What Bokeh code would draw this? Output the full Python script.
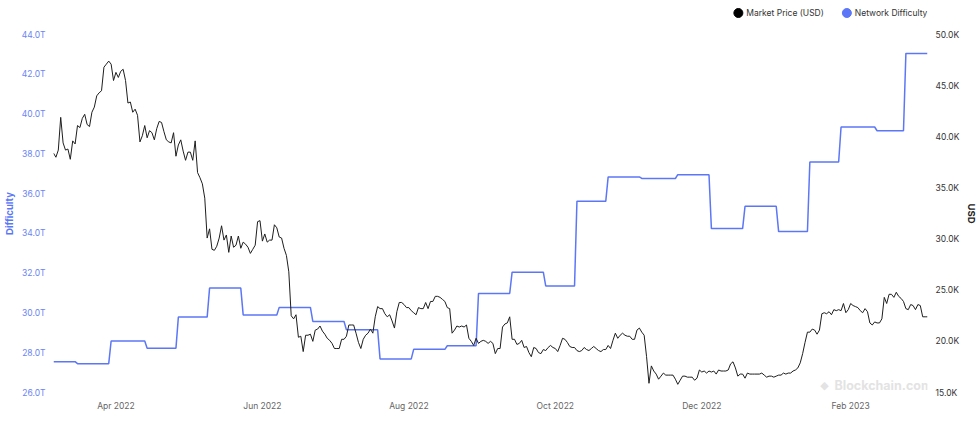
import pandas as pd
from bokeh.plotting import figure
from bokeh.layouts import column
from bokeh.core.properties import value
from bokeh.models import (Range1d, LinearAxis, FixedTicker, PrintfTickFormatter,
                          DatetimeTickFormatter, Label)
from bokeh.embed import file_html
from bokeh.resources import INLINE

# ---------------- data ----------------
price_start = "2022-03-06"
# Market price, thousands of USD, one value per day from 2022-03-06 to 2023-03-05
price_k_usd = [
    # Mar 2022 (6-31)
    38.4, 38.0, 38.7, 41.9, 39.4, 38.7, 38.8, 37.8, 39.6, 39.3, 41.1, 40.9, 41.8, 42.2,
    41.2, 41.0, 42.4, 42.9, 44.0, 44.3, 44.5, 46.8, 47.1, 47.4, 47.1, 45.5,
    # Apr
    46.3, 45.8, 46.4, 46.6, 45.5, 43.3, 43.4, 42.4, 42.7, 42.1, 39.5, 40.1, 41.1, 39.9, 40.6,
    40.4, 39.7, 40.8, 41.5, 41.4, 40.5, 39.7, 39.5, 39.4, 40.4, 38.1, 39.2, 39.7, 38.6, 37.7,
    # May
    38.5, 38.5, 37.7, 39.6, 36.5, 36.0, 35.4, 34.0, 30.1, 31.0, 29.0, 28.9, 29.3, 30.1, 31.3,
    29.9, 30.4, 28.7, 30.3, 29.2, 29.4, 30.3, 29.1, 29.7, 29.5, 29.2, 28.6, 29.0, 29.4, 31.7, 31.8,
    # Jun
    29.8, 30.5, 29.7, 29.9, 29.9, 31.4, 31.1, 30.2, 30.1, 29.1, 28.4, 26.8, 22.5, 22.2, 22.6,
    20.4, 20.5, 19.0, 20.6, 20.6, 20.7, 20.0, 21.1, 21.2, 21.5, 21.0, 20.7, 20.3, 20.1, 19.8,
    # Jul
    19.3, 19.3, 19.3, 20.2, 20.2, 20.5, 21.6, 21.6, 21.6, 20.8, 19.9, 19.3, 20.2, 20.6, 20.8,
    21.2, 20.8, 22.4, 23.4, 23.2, 23.2, 22.7, 22.4, 22.6, 22.0, 21.3, 22.9, 23.8, 23.8, 23.6, 23.3,
    # Aug
    23.3, 23.0, 22.8, 22.6, 23.3, 23.2, 23.2, 23.8, 23.2, 23.9, 23.9, 24.4, 24.4, 24.3, 24.1,
    23.9, 23.3, 23.2, 20.8, 21.1, 21.5, 21.4, 21.5, 21.4, 21.6, 20.3, 20.0, 19.6, 20.3, 19.8, 20.0,
    # Sep
    20.1, 20.0, 19.8, 20.0, 19.8, 18.8, 19.3, 19.3, 21.4, 21.7, 21.8, 22.4, 20.2, 20.2, 19.7,
    19.8, 20.1, 19.4, 19.5, 18.9, 18.5, 19.4, 19.3, 18.9, 18.8, 19.2, 19.1, 19.4, 19.6, 19.4,
    # Oct
    19.3, 19.0, 19.6, 20.3, 20.2, 19.9, 19.5, 19.4, 19.4, 19.1, 19.0, 19.1, 19.4, 19.2, 19.1,
    19.3, 19.5, 19.3, 19.1, 19.0, 19.2, 19.2, 19.6, 19.3, 20.1, 20.8, 20.3, 20.6, 20.8, 20.6, 20.5,
    # Nov
    20.5, 20.2, 20.2, 21.1, 21.3, 20.9, 20.6, 18.5, 15.9, 17.6, 17.1, 16.8, 16.3, 16.6, 16.9,
    16.7, 16.7, 16.7, 16.7, 16.3, 15.8, 16.2, 16.6, 16.6, 16.5, 16.5, 16.5, 16.2, 16.4, 17.2,
    # Dec
    17.0, 17.1, 16.9, 17.1, 17.0, 17.1, 16.8, 17.2, 17.1, 17.1, 17.1, 17.2, 17.8, 18.0, 17.4,
    16.6, 16.8, 16.8, 16.4, 16.9, 16.8, 16.8, 16.8, 16.8, 16.8, 16.9, 16.7, 16.5, 16.6, 16.6, 16.5,
    # Jan 2023
    16.6, 16.7, 16.7, 16.9, 16.8, 16.9, 16.9, 17.1, 17.2, 17.4, 17.9, 18.8, 19.9, 20.9, 20.9,
    21.2, 21.1, 20.7, 21.1, 22.7, 22.8, 22.7, 22.9, 22.6, 23.1, 23.0, 23.1, 23.0, 23.7, 22.8, 23.1,
    # Feb
    23.7, 23.5, 23.4, 23.3, 23.0, 22.8, 23.2, 22.9, 21.8, 21.6, 21.9, 21.8, 21.8, 22.2, 24.3,
    23.7, 24.6, 24.6, 24.3, 24.8, 24.4, 24.2, 23.9, 23.2, 23.1, 23.6, 23.5, 23.1,
    # Mar (1-5)
    23.6, 23.5, 22.4, 22.4, 22.4,
]

# Network difficulty (T): value at start, then the value from each adjustment date on
diff_start = "2022-03-06"
diff_end = "2023-03-05"
diff_start_value_t = 27.55
diff_change_dates = [
    "2022-03-16", "2022-03-30", "2022-04-14", "2022-04-27", "2022-05-10", "2022-05-24",
    "2022-06-08", "2022-06-22", "2022-07-06", "2022-07-20", "2022-08-03", "2022-08-17",
    "2022-08-30", "2022-09-13", "2022-09-27", "2022-10-10", "2022-10-23", "2022-11-06",
    "2022-11-21", "2022-12-05", "2022-12-19", "2023-01-02", "2023-01-15", "2023-01-28",
    "2023-02-12", "2023-02-24",
]
diff_change_values_t = [
    27.45, 28.59, 28.23, 29.79, 31.25, 29.9,
    30.28, 29.57, 29.15, 27.69, 28.17, 28.35,
    30.98, 32.05, 31.36, 35.61, 36.84, 36.76,
    36.95, 34.24, 35.36, 34.09, 37.59, 39.35,
    39.16, 43.05,
]

series_names = ["Market Price (USD)", "Network Difficulty"]
x_tick_dates = ["2022-04-01", "2022-06-01", "2022-08-01", "2022-10-01", "2022-12-01", "2023-02-01"]
diff_ticks_t = [26, 28, 30, 32, 34, 36, 38, 40, 42, 44]
usd_ticks_k = [15, 20, 25, 30, 35, 40, 45, 50]

# ---------------- derived series ----------------
price_dates = pd.date_range(price_start, periods=len(price_k_usd), freq="D")

one_day = pd.Timedelta(days=1)
dx = [pd.Timestamp(diff_start)]
dy = [diff_start_value_t]
prev = diff_start_value_t
for d, v in zip(diff_change_dates, diff_change_values_t):
    t = pd.Timestamp(d)
    dx += [t - one_day, t]
    dy += [prev, v]
    prev = v
dx.append(pd.Timestamp(diff_end))
dy.append(prev)

BLUE = "#5b77f7"
BLACK = "#1e1e1e"
FONT = "Inter"
W = 980
LEG_H = 26
BORDER_L, BORDER_R = 52, 50

# ---------------- legend strip (own small figure; frame aligned with the chart's) ----------------
leg = figure(width=W, height=LEG_H, output_backend="svg", toolbar_location=None,
             x_range=Range1d(BORDER_L, W - BORDER_R), y_range=Range1d(LEG_H, 0),
             x_axis_location=None, y_axis_location=None,
             min_border_left=BORDER_L, min_border_right=BORDER_R,
             min_border_top=0, min_border_bottom=0)
leg.xgrid.visible = False
leg.ygrid.visible = False
leg.outline_line_color = None
leg.border_fill_color = "white"
leg.background_fill_color = "white"
leg_dot_x = [740, 849]
leg_text_x = [748, 857]
leg_y = 12.5
leg.scatter(x=leg_dot_x, y=[leg_y, leg_y], size=9, color=["black", BLUE])
leg.text(x=leg_text_x, y=[leg_y, leg_y], text=series_names, text_font=value(FONT),
         text_font_size=value("8.5px"), text_color="#333333", text_baseline="middle")

# ---------------- main chart ----------------
p = figure(width=W, height=425 - LEG_H, x_axis_type="datetime", output_backend="svg",
           toolbar_location=None,
           x_range=Range1d(start=pd.Timestamp(price_start), end=pd.Timestamp(diff_end)),
           y_range=Range1d(min(diff_ticks_t), max(diff_ticks_t)),
           min_border_left=BORDER_L, min_border_right=BORDER_R, min_border_top=34 - LEG_H,
           min_border_bottom=33)
p.extra_y_ranges = {"usd": Range1d(min(usd_ticks_k), max(usd_ticks_k))}
p.xgrid.visible = False
p.ygrid.visible = False
p.outline_line_color = None
p.background_fill_color = "white"
p.border_fill_color = "white"

# watermark (inside the frame, behind data)
p.add_layout(Label(x=771, y=7, x_units="screen", y_units="screen", text="\u25c6",
                   text_font="DejaVu Sans", text_font_size="11px", text_color="#e3e3e3",
                   text_baseline="middle", text_align="center"))
p.add_layout(Label(x=781, y=7, x_units="screen", y_units="screen", text="Blockchain.com",
                   text_font=FONT, text_font_size="12.5px", text_font_style="bold",
                   text_color="#e3e3e3", text_baseline="middle"))

p.line(dx, dy, line_color=BLUE, line_width=1.5)
p.line(price_dates, price_k_usd, line_color=BLACK, line_width=1, y_range_name="usd")

# axes
p.yaxis.ticker = FixedTicker(ticks=diff_ticks_t)
p.yaxis.formatter = PrintfTickFormatter(format="%.1fT")
p.yaxis.major_label_text_color = "#6a84f5"
p.yaxis.axis_label = "Difficulty"
p.yaxis.axis_label_text_color = BLUE

right = LinearAxis(y_range_name="usd", ticker=FixedTicker(ticks=usd_ticks_k),
                   formatter=PrintfTickFormatter(format="%.1fK"), axis_label="USD")
p.add_layout(right, "right")
right.major_label_text_color = "#333333"
right.axis_label_text_color = "#222222"

p.xaxis.ticker = FixedTicker(ticks=[pd.Timestamp(d).value // 10**6 for d in x_tick_dates])
p.xaxis.formatter = DatetimeTickFormatter(days="%b %Y", months="%b %Y", years="%b %Y")
p.xaxis.major_label_text_color = "#666666"

for ax in [p.yaxis[0], right, p.xaxis[0]]:
    ax.axis_line_color = None
    ax.major_tick_line_color = None
    ax.minor_tick_line_color = None
    ax.major_tick_out = 0
    ax.major_tick_in = 0
    ax.major_label_standoff = 8
    ax.major_label_text_font = FONT
    ax.major_label_text_font_size = "8.5px"
    ax.axis_label_text_font = FONT
    ax.axis_label_text_font_size = "9.5px"
    ax.axis_label_text_font_style = "bold"
    ax.axis_label_standoff = 4

layout = column(leg, p, spacing=0)
open("out.html", "w").write(file_html(layout, INLINE))
